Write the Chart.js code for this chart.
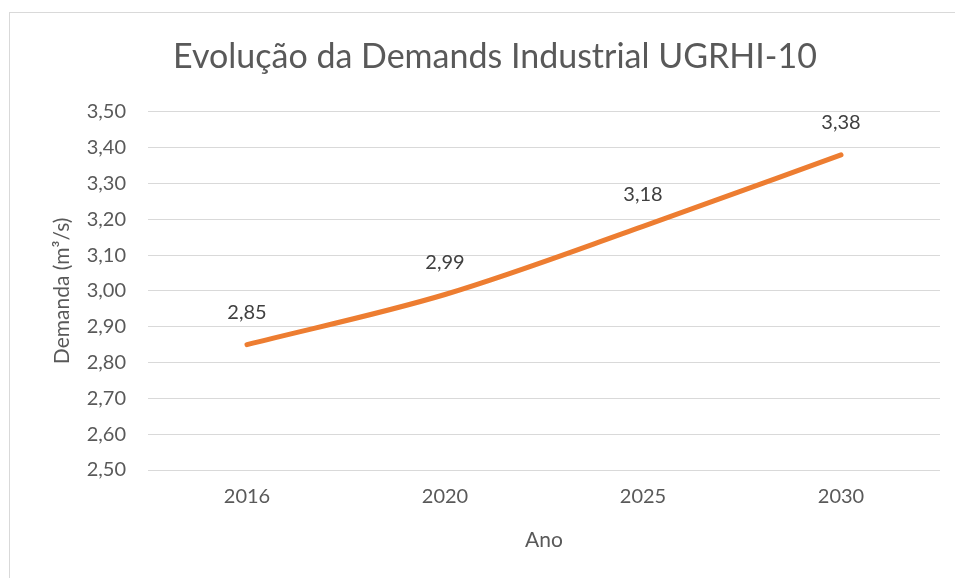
<!DOCTYPE html>
<html>
<head>
<meta charset="utf-8">
<script src="https://cdn.jsdelivr.net/npm/chart.js@4"></script>
<style>
  html, body { margin: 0; padding: 0; background: #fff; overflow: hidden; }
  #frame {
    position: absolute; left: 9px; top: 12px;
    width: 990px; height: 600px;
    border: 1px solid #d9d9d9; background: #fff;
  }
  #wrap { position: absolute; left: 0; top: 0; width: 960px; height: 565px; }
</style>
</head>
<body>
<div id="frame"><div id="wrap"><canvas id="chart"></canvas></div></div>
<script>
// DATA
const years = ["2016", "2020", "2025", "2030"];
const demanda = [2.85, 2.99, 3.18, 3.38];
const yMin = 2.5, yMax = 3.5, yStep = 0.1;

const fmt = v => v.toFixed(2).replace(".", ",");
const FONT = "Lato, 'Open Sans', sans-serif";

// data labels above the points
const pointLabels = {
  id: "pointLabels",
  afterDatasetsDraw(chart) {
    const c = chart.ctx;
    const meta = chart.getDatasetMeta(0);
    c.save();
    c.font = "20px " + FONT;
    c.fillStyle = "#404040";
    c.textAlign = "center";
    c.textBaseline = "middle";
    meta.data.forEach((p, i) => c.fillText(fmt(demanda[i]), p.x, p.y - 32));
    c.restore();
  }
};

new Chart(document.getElementById("chart"), {
  type: "line",
  data: {
    labels: years,
    datasets: [{
      data: demanda,
      borderColor: "#ED7D31",
      borderWidth: 5,
      borderCapStyle: "round",
      pointRadius: 0,
      tension: 0.3,
      cubicInterpolationMode: "monotone",
    }]
  },
  options: {
    responsive: true,
    maintainAspectRatio: false,
    animation: false,
    layout: { padding: { left: 40, right: 30, top: 0, bottom: 0 } },
    plugins: {
      legend: { display: false },
      tooltip: { enabled: false },
      title: {
        display: true,
        text: "Evolução da Demands Industrial UGRHI-10",
        color: "#595959",
        font: { family: FONT, size: 34, weight: "normal" },
        padding: { top: 24, bottom: 34 }
      }
    },
    scales: {
      x: {
        offset: true,
        grid: { display: false, drawTicks: false },
        border: { display: false },
        ticks: { color: "#595959", font: { family: FONT, size: 20 }, padding: 15 },
        title: { display: true, text: "Ano", color: "#595959", font: { family: FONT, size: 21 }, padding: { top: 0, bottom: 25 } },
        afterFit(s) { s.height = 108; }
      },
      y: {
        min: yMin, max: yMax,
        grid: { color: "#d9d9d9", lineWidth: 1, drawTicks: false },
        border: { display: false },
        ticks: { stepSize: yStep, color: "#595959", font: { family: FONT, size: 20 }, padding: 22, callback: v => fmt(v) },
        title: { display: true, text: "Demanda (m³/s)", color: "#595959", font: { family: FONT, size: 21 }, padding: 0 },
        afterFit(s) { s.width = 98; }
      }
    }
  },
  plugins: [pointLabels]
});
</script>
</body>
</html>
